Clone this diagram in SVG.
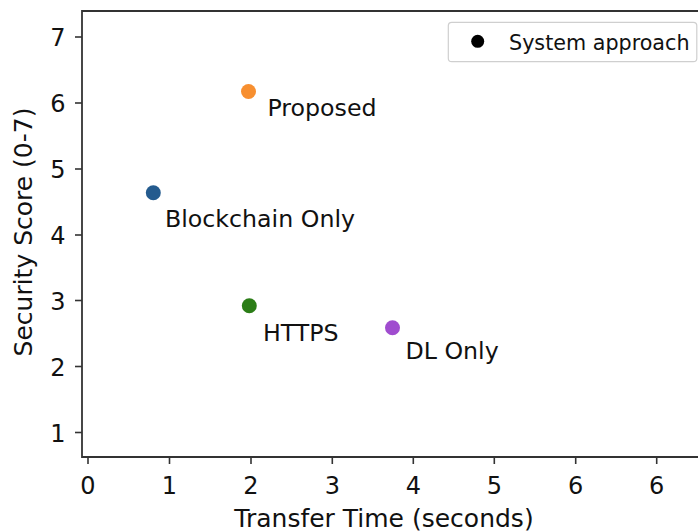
<svg xmlns="http://www.w3.org/2000/svg" width="698" height="531" viewBox="0 0 698 531">
  <style>
    text { font-family: "DejaVu Sans", "Liberation Sans", sans-serif; fill: #111; }
    .tick { font-size: 24px; }
    .ylab { text-anchor: end; }
    .xlab { text-anchor: middle; }
    .axis-title { font-size: 25px; text-anchor: middle; }
    .pt-label { font-size: 23.7px; }
    .spine { stroke: #333; stroke-width: 1.8; fill: none; }
    .tk { stroke: #333; stroke-width: 1.6; }
  </style>
  <rect width="698" height="531" fill="#fff"/>

  <!-- axes frame -->
  <g id="axes">
    <path class="spine" d="M698 11 H82 V457 H698"/>
    <!-- y ticks -->
    <g class="tk">
      <line x1="75" y1="37" x2="82" y2="37"/>
      <line x1="75" y1="103" x2="82" y2="103"/>
      <line x1="75" y1="169" x2="82" y2="169"/>
      <line x1="75" y1="235" x2="82" y2="235"/>
      <line x1="75" y1="300.5" x2="82" y2="300.5"/>
      <line x1="75" y1="366.5" x2="82" y2="366.5"/>
      <line x1="75" y1="432.5" x2="82" y2="432.5"/>
    </g>
    <g class="tick ylab">
      <text x="65.5" y="46">7</text>
      <text x="65.5" y="112">6</text>
      <text x="65.5" y="178">5</text>
      <text x="65.5" y="244">4</text>
      <text x="65.5" y="309.5">3</text>
      <text x="65.5" y="375.5">2</text>
      <text x="65.5" y="441.5">1</text>
    </g>
    <!-- x ticks -->
    <g class="tk">
      <line x1="88" y1="457" x2="88" y2="464"/>
      <line x1="169.5" y1="457" x2="169.5" y2="464"/>
      <line x1="251" y1="457" x2="251" y2="464"/>
      <line x1="332.3" y1="457" x2="332.3" y2="464"/>
      <line x1="413.3" y1="457" x2="413.3" y2="464"/>
      <line x1="494.3" y1="457" x2="494.3" y2="464"/>
      <line x1="575.7" y1="457" x2="575.7" y2="464"/>
      <line x1="656.7" y1="457" x2="656.7" y2="464"/>
    </g>
    <g class="tick xlab">
      <text x="88" y="493.5">0</text>
      <text x="169.5" y="493.5">1</text>
      <text x="251" y="493.5">2</text>
      <text x="332.3" y="493.5">3</text>
      <text x="413.3" y="493.5">4</text>
      <text x="494.3" y="493.5">5</text>
      <text x="575.7" y="493.5">6</text>
      <text x="656.7" y="493.5">6</text>
    </g>
    <text class="axis-title" x="384" y="526.5">Transfer Time (seconds)</text>
    <text class="axis-title" transform="translate(32 232) rotate(-90)">Security Score (0-7)</text>
  </g>

  <!-- data points with labels -->
  <g id="proposed">
    <circle cx="248.5" cy="91.5" r="7.5" fill="#f78f30"/>
    <text class="pt-label" x="267.5" y="115.5">Proposed</text>
  </g>
  <g id="blockchain-only">
    <circle cx="153.3" cy="192.8" r="7.5" fill="#245b8e"/>
    <text class="pt-label" x="165" y="226.5">Blockchain Only</text>
  </g>
  <g id="https">
    <circle cx="249.3" cy="305.7" r="7.5" fill="#2b7d17"/>
    <text class="pt-label" x="263" y="340.8">HTTPS</text>
  </g>
  <g id="dl-only">
    <circle cx="392.5" cy="327.7" r="7.5" fill="#a04ccf"/>
    <text class="pt-label" x="405.5" y="359.3">DL Only</text>
  </g>

  <!-- legend -->
  <g id="legend">
    <rect x="448.3" y="22.3" width="248.5" height="39.4" rx="3.5" fill="#fff" fill-opacity="0.8" stroke="#cfcfcf" stroke-width="1.2"/>
    <circle cx="477.7" cy="41.3" r="6.5" fill="#000"/>
    <text x="509" y="50" style="font-size:20.7px">System approach</text>
  </g>
</svg>
